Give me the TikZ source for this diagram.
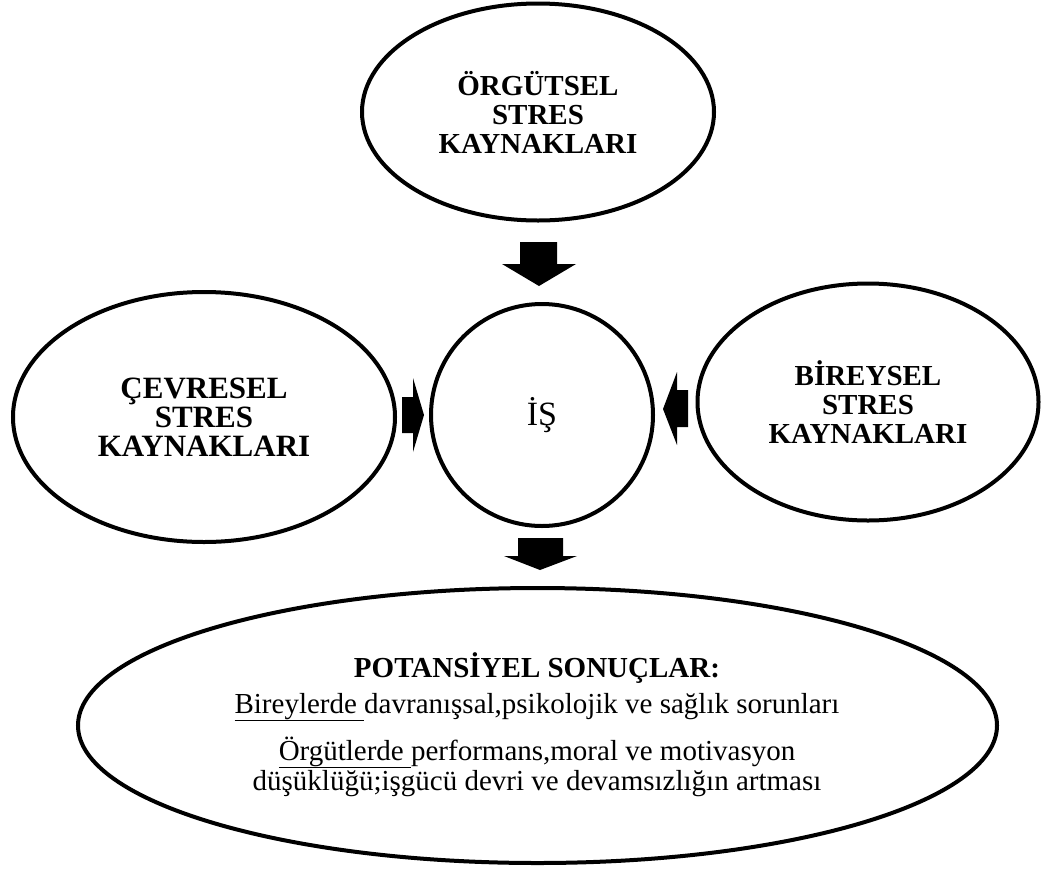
\documentclass[tikz,border=0pt]{standalone}
\usepackage{fontspec}
\setmainfont{Liberation Serif}
\usetikzlibrary{shapes.geometric}
\begin{document}
\begin{tikzpicture}[x=1pt,y=-1pt,
  bub/.style={draw, line width=4pt, ellipse, inner sep=0pt, align=center},
  blk/.style={fill=black},
  hb/.style={font=\fontsize{29}{29}\selectfont\bfseries},
  hbl/.style={font=\fontsize{31}{29}\selectfont\bfseries},
  body/.style={font=\fontsize{29}{30}\selectfont, inner sep=0pt, anchor=base},
]
\useasboundingbox[fill=white] (0,0) rectangle (1044,868);
% bubbles
\node[bub, hb, minimum width=352pt, minimum height=217pt] (org) at (538,112) {ÖRGÜTSEL\\STRES\\KAYNAKLARI};
\node[bub, hbl, minimum width=382pt, minimum height=250pt] (cev) at (204,417) {ÇEVRESEL\\STRES\\KAYNAKLARI};
\node[bub, font=\fontsize{34}{34}\selectfont, minimum width=222pt, minimum height=222pt] (is) at (542,415) {İŞ};
\node[bub, hb, minimum width=341pt, minimum height=237pt] (bir) at (868,402) {BİREYSEL\\STRES\\KAYNAKLARI};
\node[bub, minimum width=919pt, minimum height=275pt] (pot) at (537.5,725.5) {};
% texts of the bottom bubble
\node[body, font=\fontsize{29}{29}\selectfont\bfseries] (h) at (537,677) {POTANSİYEL SONUÇLAR:};
\node[body] (l2) at (537,713) {\underline{Bireylerde\ }davranışsal,psikolojik ve sağlık sorunları};
\node[body] (l3) at (537,760) {\underline{Örgütlerde\ }performans,moral ve motivasyon};
\node[body] (l4) at (537,790) {düşüklüğü;işgücü devri ve devamsızlığın artması};
% block arrows
\coordinate (t1) at (539,286);
\coordinate (t2) at (424,415);
\coordinate (t3) at (663,409);
\coordinate (t4) at (540,570);
\fill[blk] (t1) -- ++(-37,-22) -- ++(18,0) -- ++(0,-22) -- ++(37,0) -- ++(0,22) -- ++(19,0) -- cycle;
\fill[blk] (t2) -- ++(-11,-37) -- ++(0,19) -- ++(-11,0) -- ++(0,36) -- ++(11,0) -- ++(0,19) -- cycle;
\fill[blk] (t3) -- ++(14,-37) -- ++(0,18) -- ++(11,0) -- ++(0,37) -- ++(-11,0) -- ++(0,18) -- cycle;
\fill[blk] (t4) -- ++(-36,-14) -- ++(14,0) -- ++(0,-18) -- ++(45,0) -- ++(0,18) -- ++(14,0) -- cycle;
\end{tikzpicture}
\end{document}
